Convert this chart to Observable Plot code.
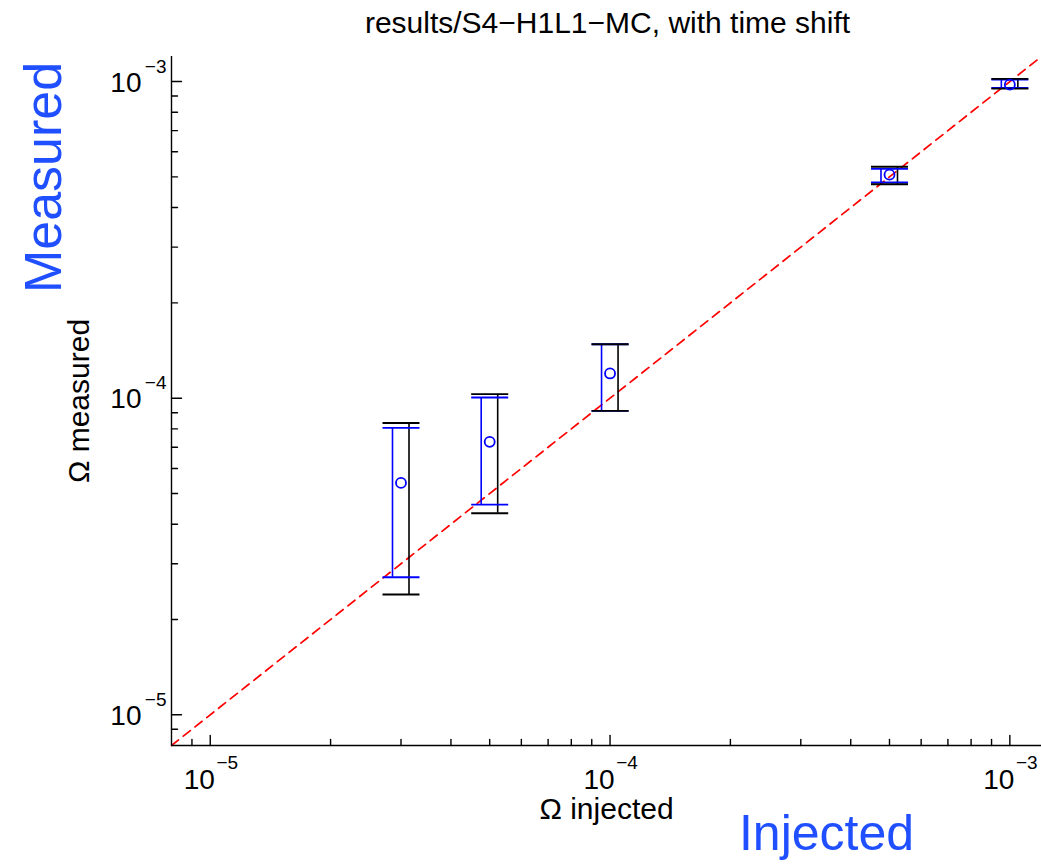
<!DOCTYPE html>
<html>
<head>
<meta charset="utf-8">
<script src="https://cdn.jsdelivr.net/npm/d3@7"></script>
<script src="https://cdn.jsdelivr.net/npm/@observablehq/plot@0.6"></script>
<style>
  html, body { margin: 0; padding: 0; background: #ffffff; }
  #chart { width: 1041px; height: 864px; }
</style>
</head>
<body>
<div id="chart"></div>
<script>
// ---- data ----
const injected   = [3e-5, 5e-5, 1e-4, 5e-4, 1e-3];
const measured   = [5.40e-5, 7.28e-5, 1.197e-4, 5.08e-4, 9.78e-4];
const blueLow    = [2.72e-5, 4.61e-5, 9.12e-5, 4.80e-4, 9.55e-4];
const blueHigh   = [8.06e-5, 1.005e-4, 1.48e-4, 5.30e-4, 1.015e-3];
const blackLow   = [2.40e-5, 4.33e-5, 9.12e-5, 4.74e-4, 9.50e-4];
const blackHigh  = [8.35e-5, 1.03e-4, 1.48e-4, 5.38e-4, 1.02e-3];

const axisDomain = [8e-6, 1.2e-3];
const majorTicks = [1e-5, 1e-4, 1e-3];
const tickBase   = ["10", "10", "10"];
const tickExp    = ["\u22125", "\u22124", "\u22123"];
const minorTicks = [9e-6, 2e-5, 3e-5, 4e-5, 5e-5, 6e-5, 7e-5, 8e-5, 9e-5,
                    2e-4, 3e-4, 4e-4, 5e-4, 6e-4, 7e-4, 8e-4, 9e-4];

const title      = "results/S4\u2212H1L1\u2212MC, with time shift";
const xLabel     = "\u03A9 injected";
const yLabel     = "\u03A9 measured";
const bigXLabel  = "Injected";
const bigYLabel  = "Measured";

// ---- tables built from the arrays ----
const rows = injected.map((x, i) => ({
  inj: x, meas: measured[i],
  bLo: blueLow[i], bHi: blueHigh[i],
  kLo: blackLow[i], kHi: blackHigh[i]
}));
const caps = [];
rows.forEach(r => {
  caps.push({inj: r.inj, v: r.bLo, c: "blue"}, {inj: r.inj, v: r.bHi, c: "blue"});
});
rows.forEach(r => {
  caps.push({inj: r.inj, v: r.kLo, c: "black"}, {inj: r.inj, v: r.kHi, c: "black"});
});
const majors = majorTicks.map((t, i) => ({t, base: tickBase[i], exp: tickExp[i]}));

const capSymbol = {
  draw(context, size) {
    const w = Math.sqrt(size / Math.PI);
    context.moveTo(-w, 0);
    context.lineTo(w, 0);
  }
};
const tickShape = {
  draw(context, l) {
    context.moveTo(0, 0);
    context.lineTo(0, -l);
  }
};

const FONT = "'Liberation Sans', Arial, Helvetica, sans-serif";
const BIGBLUE = "#1f4fff";

const chart = Plot.plot({
  width: 1041,
  height: 864,
  marginLeft: 171,
  marginRight: 0,
  marginTop: 56,
  marginBottom: 119,
  x: {type: "log", domain: axisDomain, axis: null},
  y: {type: "log", domain: axisDomain, axis: null},
  style: {fontFamily: FONT, background: "#ffffff", overflow: "visible", color: "#000"},
  marks: [
    // y = x reference line
    Plot.line(axisDomain, {x: d => d, y: d => d, stroke: "#ff0000", strokeWidth: 1.7, strokeDasharray: "9,6"}),
    // error bars
    Plot.ruleX(rows, {x: "inj", y1: "bLo", y2: "bHi", dx: -8.5, stroke: "blue", strokeWidth: 1.6}),
    Plot.ruleX(rows, {x: "inj", y1: "kLo", y2: "kHi", dx: 8, stroke: "black", strokeWidth: 1.6}),
    Plot.dot(caps, {x: "inj", y: "v", symbol: capSymbol, r: 18.5, fill: "none", stroke: "c", strokeWidth: 1.9}),
    // measured points
    Plot.dot(rows, {x: "inj", y: "meas", r: 5, fill: "none", stroke: "blue", strokeWidth: 1.8}),
    // axis lines
    Plot.ruleX([axisDomain[0]], {stroke: "black", strokeWidth: 1.4}),
    Plot.ruleY([axisDomain[0]], {stroke: "black", strokeWidth: 1.4}),
    // ticks (inward)
    Plot.vector(majorTicks, {x: d => d, frameAnchor: "bottom", rotate: 0, length: 10, anchor: "start", shape: tickShape, stroke: "black", strokeWidth: 1.4}),
    Plot.vector(minorTicks, {x: d => d, frameAnchor: "bottom", rotate: 0, length: 6, anchor: "start", shape: tickShape, stroke: "black", strokeWidth: 1.4}),
    Plot.vector(majorTicks, {y: d => d, frameAnchor: "left", rotate: 90, length: 10, anchor: "start", shape: tickShape, stroke: "black", strokeWidth: 1.4}),
    Plot.vector(minorTicks, {y: d => d, frameAnchor: "left", rotate: 90, length: 6, anchor: "start", shape: tickShape, stroke: "black", strokeWidth: 1.4}),
    // tick labels x
    Plot.text(majors, {x: "t", text: "base", frameAnchor: "bottom", dx: -11, dy: 43, lineAnchor: "bottom", textAnchor: "middle", fontSize: 28, fill: "black"}),
    Plot.text(majors, {x: "t", text: "exp", frameAnchor: "bottom", dx: 17, dy: 23, lineAnchor: "bottom", textAnchor: "middle", fontSize: 19, fill: "black"}),
    // tick labels y
    Plot.text(majors, {y: "t", text: "base", frameAnchor: "left", dx: -30, dy: 10, lineAnchor: "bottom", textAnchor: "end", fontSize: 28, fill: "black"}),
    Plot.text(majors, {y: "t", text: "exp", frameAnchor: "left", dx: -5, dy: -9, lineAnchor: "bottom", textAnchor: "end", fontSize: 19, fill: "black"}),
    // titles and labels
    Plot.text([title], {frameAnchor: "top", dx: 1, dy: -24, lineAnchor: "bottom", textAnchor: "middle", fontSize: 30, fill: "black"}),
    Plot.text([xLabel], {frameAnchor: "bottom", dx: 0, dy: 73, lineAnchor: "bottom", textAnchor: "middle", fontSize: 30, fill: "black"}),
    Plot.text([yLabel], {frameAnchor: "left", dx: -83, dy: 0, rotate: -90, lineAnchor: "bottom", textAnchor: "middle", fontSize: 30, fill: "black"}),
    Plot.text([bigYLabel], {frameAnchor: "top-left", dx: -111, dy: 121, rotate: -90, lineAnchor: "bottom", textAnchor: "middle", fontSize: 52, fill: BIGBLUE}),
    Plot.text([bigXLabel], {frameAnchor: "bottom-left", dx: 655, dy: 104, lineAnchor: "bottom", textAnchor: "middle", fontSize: 50, fill: BIGBLUE})
  ]
});
document.getElementById("chart").appendChild(chart);
</script>
</body>
</html>
